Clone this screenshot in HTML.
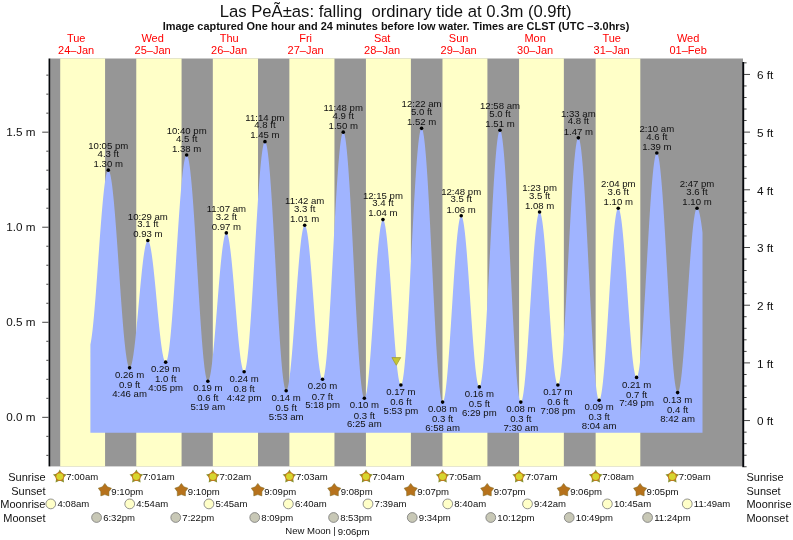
<!DOCTYPE html><html><head><meta charset="utf-8"><title>Tide</title>
<style>html,body{margin:0;padding:0;background:#fff;}svg{display:block;will-change:transform;font-family:"Liberation Sans",sans-serif;}</style></head><body>
<svg width="793" height="540" viewBox="0 0 793 540">
<rect width="793" height="540" fill="#fff"/>
<rect x="50" y="58.5" width="693" height="407.9" fill="#969696"/>
<rect x="60.21" y="58.5" width="44.86" height="407.9" fill="#ffffc8"/>
<rect x="136.27" y="58.5" width="45.30" height="407.9" fill="#ffffc8"/>
<rect x="212.82" y="58.5" width="45.20" height="407.9" fill="#ffffc8"/>
<rect x="289.37" y="58.5" width="45.09" height="407.9" fill="#ffffc8"/>
<rect x="365.92" y="58.5" width="44.98" height="407.9" fill="#ffffc8"/>
<rect x="442.48" y="58.5" width="44.93" height="407.9" fill="#ffffc8"/>
<rect x="519.08" y="58.5" width="44.77" height="407.9" fill="#ffffc8"/>
<rect x="595.64" y="58.5" width="44.67" height="407.9" fill="#ffffc8"/>
<path d="M90.40,432.8L90.40,344.55L90.90,341.93L91.40,338.80L91.90,335.20L92.40,331.13L92.90,326.63L93.40,321.72L93.90,316.44L94.40,310.81L94.90,304.87L95.40,298.65L95.90,292.20L96.40,285.55L96.90,278.75L97.40,271.83L97.90,264.84L98.40,257.82L98.90,250.81L99.40,243.86L99.90,237.01L100.40,230.30L100.90,223.77L101.40,217.46L101.90,211.41L102.40,205.66L102.90,200.24L103.40,195.18L103.90,190.52L104.40,186.29L104.90,182.50L105.40,179.19L105.90,176.37L106.40,174.07L106.90,172.29L107.40,171.04L107.90,170.34L108.40,170.18L108.90,170.57L109.40,171.49L109.90,172.94L110.40,174.91L110.90,177.40L111.40,180.38L111.90,183.85L112.40,187.77L112.90,192.14L113.40,196.93L113.90,202.11L114.40,207.65L114.90,213.52L115.40,219.70L115.90,226.15L116.40,232.82L116.90,239.70L117.40,246.73L117.90,253.89L118.40,261.13L118.90,268.41L119.40,275.69L119.90,282.94L120.40,290.11L120.90,297.17L121.40,304.07L121.90,310.79L122.40,317.27L122.90,323.50L123.40,329.43L123.90,335.03L124.40,340.27L124.90,345.12L125.40,349.56L125.90,353.57L126.40,357.11L126.90,360.18L127.40,362.75L127.90,364.81L128.40,366.35L128.90,367.36L129.40,367.83L129.90,367.79L130.40,367.26L130.90,366.27L131.40,364.81L131.90,362.91L132.40,360.56L132.90,357.80L133.40,354.65L133.90,351.11L134.40,347.23L134.90,343.03L135.40,338.54L135.90,333.80L136.40,328.83L136.90,323.69L137.40,318.39L137.90,313.00L138.40,307.53L138.90,302.05L139.40,296.57L139.90,291.16L140.40,285.84L140.90,280.66L141.40,275.65L141.90,270.86L142.40,266.31L142.90,262.04L143.40,258.09L143.90,254.48L144.40,251.23L144.90,248.38L145.40,245.95L145.90,243.95L146.40,242.39L146.90,241.30L147.40,240.67L147.90,240.51L148.40,240.83L148.90,241.61L149.40,242.86L149.90,244.55L150.40,246.69L150.90,249.25L151.40,252.22L151.90,255.56L152.40,259.26L152.90,263.28L153.40,267.60L153.90,272.18L154.40,276.98L154.90,281.98L155.40,287.12L155.90,292.37L156.40,297.69L156.90,303.05L157.40,308.38L157.90,313.67L158.40,318.85L158.90,323.91L159.40,328.78L159.90,333.45L160.40,337.86L160.90,342.00L161.40,345.82L161.90,349.29L162.40,352.40L162.90,355.11L163.40,357.40L163.90,359.26L164.40,360.67L164.90,361.62L165.40,362.10L165.90,362.11L166.40,361.55L166.90,360.41L167.40,358.70L167.90,356.43L168.40,353.61L168.90,350.26L169.40,346.40L169.90,342.04L170.40,337.22L170.90,331.95L171.40,326.28L171.90,320.23L172.40,313.83L172.90,307.12L173.40,300.14L173.90,292.92L174.40,285.52L174.90,277.96L175.40,270.30L175.90,262.56L176.40,254.81L176.90,247.08L177.40,239.41L177.90,231.85L178.40,224.44L178.90,217.22L179.40,210.23L179.90,203.51L180.40,197.10L180.90,191.04L181.40,185.35L181.90,180.07L182.40,175.24L182.90,170.87L183.40,166.99L183.90,163.62L184.40,160.78L184.90,158.50L185.40,156.77L185.90,155.61L186.40,155.03L186.90,155.04L187.40,155.66L187.90,156.90L188.40,158.75L188.90,161.19L189.40,164.23L189.90,167.83L190.40,171.99L190.90,176.67L191.40,181.85L191.90,187.51L192.40,193.61L192.90,200.12L193.40,207.00L193.90,214.21L194.40,221.73L194.90,229.49L195.40,237.47L195.90,245.62L196.40,253.89L196.90,262.23L197.40,270.61L197.90,278.98L198.40,287.28L198.90,295.48L199.40,303.53L199.90,311.39L200.40,319.00L200.90,326.34L201.40,333.36L201.90,340.02L202.40,346.28L202.90,352.12L203.40,357.49L203.90,362.37L204.40,366.74L204.90,370.56L205.40,373.82L205.90,376.50L206.40,378.59L206.90,380.07L207.40,380.93L207.90,381.18L208.40,380.85L208.90,380.00L209.40,378.61L209.90,376.71L210.40,374.31L210.90,371.42L211.40,368.07L211.90,364.28L212.40,360.08L212.90,355.49L213.40,350.55L213.90,345.30L214.40,339.77L214.90,334.01L215.40,328.05L215.90,321.94L216.40,315.72L216.90,309.44L217.40,303.15L217.90,296.88L218.40,290.68L218.90,284.60L219.40,278.69L219.90,272.98L220.40,267.51L220.90,262.33L221.40,257.47L221.90,252.97L222.40,248.86L222.90,245.17L223.40,241.93L223.90,239.16L224.40,236.87L224.90,235.09L225.40,233.84L225.90,233.10L226.40,232.91L226.90,233.25L227.40,234.13L227.90,235.54L228.40,237.46L228.90,239.90L229.40,242.82L229.90,246.20L230.40,250.02L230.90,254.24L231.40,258.84L231.90,263.78L232.40,269.02L232.90,274.52L233.40,280.23L233.90,286.11L234.40,292.13L234.90,298.22L235.40,304.34L235.90,310.44L236.40,316.48L236.90,322.42L237.40,328.19L237.90,333.76L238.40,339.09L238.90,344.13L239.40,348.85L239.90,353.20L240.40,357.16L240.90,360.69L241.40,363.77L241.90,366.36L242.40,368.46L242.90,370.04L243.40,371.10L243.90,371.62L244.40,371.58L244.90,370.90L245.40,369.58L245.90,367.61L246.40,365.01L246.90,361.79L247.40,357.97L247.90,353.58L248.40,348.64L248.90,343.18L249.40,337.22L249.90,330.80L250.40,323.97L250.90,316.75L251.40,309.19L251.90,301.33L252.40,293.21L252.90,284.89L253.40,276.41L253.90,267.82L254.40,259.16L254.90,250.49L255.40,241.85L255.90,233.30L256.40,224.88L256.90,216.64L257.40,208.63L257.90,200.89L258.40,193.47L258.90,186.41L259.40,179.75L259.90,173.52L260.40,167.77L260.90,162.52L261.40,157.81L261.90,153.66L262.40,150.10L262.90,147.14L263.40,144.81L263.90,143.11L264.40,142.06L264.90,141.66L265.40,141.92L265.90,142.87L266.40,144.49L266.90,146.79L267.40,149.73L267.90,153.32L268.40,157.52L268.90,162.33L269.40,167.70L269.90,173.61L270.40,180.03L270.90,186.92L271.40,194.25L271.90,201.98L272.40,210.05L272.90,218.43L273.40,227.08L273.90,235.94L274.40,244.97L274.90,254.11L275.40,263.32L275.90,272.54L276.40,281.73L276.90,290.83L277.40,299.80L277.90,308.59L278.40,317.14L278.90,325.41L279.40,333.35L279.90,340.93L280.40,348.10L280.90,354.82L281.40,361.05L281.90,366.76L282.40,371.91L282.90,376.49L283.40,380.46L283.90,383.81L284.40,386.51L284.90,388.54L285.40,389.91L285.90,390.60L286.40,390.61L286.90,390.02L287.40,388.85L287.90,387.09L288.40,384.76L288.90,381.89L289.40,378.48L289.90,374.57L290.40,370.18L290.90,365.35L291.40,360.10L291.90,354.48L292.40,348.53L292.90,342.28L293.40,335.79L293.90,329.10L294.40,322.26L294.90,315.32L295.40,308.32L295.90,301.32L296.40,294.37L296.90,287.52L297.40,280.81L297.90,274.30L298.40,268.03L298.90,262.05L299.40,256.39L299.90,251.11L300.40,246.24L300.90,241.80L301.40,237.85L301.90,234.39L302.40,231.47L302.90,229.09L303.40,227.28L303.90,226.05L304.40,225.40L304.90,225.35L305.40,225.89L305.90,227.03L306.40,228.74L306.90,231.03L307.40,233.87L307.90,237.24L308.40,241.11L308.90,245.45L309.40,250.23L309.90,255.42L310.40,260.97L310.90,266.84L311.40,272.98L311.90,279.35L312.40,285.90L312.90,292.58L313.40,299.33L313.90,306.10L314.40,312.84L314.90,319.50L315.40,326.03L315.90,332.38L316.40,338.49L316.90,344.32L317.40,349.83L317.90,354.97L318.40,359.70L318.90,363.98L319.40,367.79L319.90,371.09L320.40,373.86L320.90,376.08L321.40,377.73L321.90,378.79L322.40,379.26L322.90,379.10L323.40,378.24L323.90,376.68L324.40,374.42L324.90,371.48L325.40,367.87L325.90,363.62L326.40,358.75L326.90,353.29L327.40,347.27L327.90,340.72L328.40,333.68L328.90,326.20L329.40,318.31L329.90,310.06L330.40,301.50L330.90,292.67L331.40,283.63L331.90,274.44L332.40,265.13L332.90,255.77L333.40,246.41L333.90,237.11L334.40,227.91L334.90,218.87L335.40,210.04L335.90,201.48L336.40,193.22L336.90,185.33L337.40,177.84L337.90,170.80L338.40,164.24L338.90,158.21L339.40,152.74L339.90,147.87L340.40,143.61L340.90,139.99L341.40,137.04L341.90,134.78L342.40,133.21L342.90,132.34L343.40,132.18L343.90,132.75L344.40,134.06L344.90,136.09L345.40,138.84L345.90,142.29L346.40,146.42L346.90,151.21L347.40,156.63L347.90,162.66L348.40,169.25L348.90,176.38L349.40,183.99L349.90,192.06L350.40,200.54L350.90,209.37L351.40,218.51L351.90,227.91L352.40,237.52L352.90,247.28L353.40,257.14L353.90,267.05L354.40,276.94L354.90,286.77L355.40,296.48L355.90,306.02L356.40,315.33L356.90,324.37L357.40,333.07L357.90,341.40L358.40,349.31L358.90,356.75L359.40,363.69L359.90,370.07L360.40,375.88L360.90,381.07L361.40,385.62L361.90,389.50L362.40,392.70L362.90,395.18L363.40,396.95L363.90,397.99L364.40,398.29L364.90,397.91L365.40,396.90L365.90,395.26L366.40,393.00L366.90,390.14L367.40,386.71L367.90,382.72L368.40,378.21L368.90,373.20L369.40,367.73L369.90,361.84L370.40,355.58L370.90,348.98L371.40,342.10L371.90,334.98L372.40,327.67L372.90,320.23L373.40,312.72L373.90,305.17L374.40,297.65L374.90,290.21L375.40,282.91L375.90,275.79L376.40,268.91L376.90,262.31L377.40,256.05L377.90,250.16L378.40,244.69L378.90,239.68L379.40,235.17L379.90,231.18L380.40,227.74L380.90,224.89L381.40,222.63L381.90,220.99L382.40,219.98L382.90,219.60L383.40,219.86L383.90,220.74L384.40,222.25L384.90,224.38L385.40,227.10L385.90,230.39L386.40,234.23L386.90,238.60L387.40,243.45L387.90,248.75L388.40,254.46L388.90,260.54L389.40,266.93L389.90,273.60L390.40,280.49L390.90,287.54L391.40,294.70L391.90,301.93L392.40,309.15L392.90,316.33L393.40,323.39L393.90,330.30L394.40,336.99L394.90,343.41L395.40,349.52L395.90,355.27L396.40,360.62L396.90,365.52L397.40,369.93L397.90,373.83L398.40,377.18L398.90,379.96L399.40,382.14L399.90,383.71L400.40,384.66L400.90,384.98L401.40,384.62L401.90,383.51L402.40,381.68L402.90,379.12L403.40,375.85L403.90,371.90L404.40,367.28L404.90,362.02L405.40,356.15L405.90,349.71L406.40,342.73L406.90,335.25L407.40,327.32L407.90,318.99L408.40,310.29L408.90,301.28L409.40,292.02L409.90,282.55L410.40,272.93L410.90,263.22L411.40,253.47L411.90,243.73L412.40,234.08L412.90,224.55L413.40,215.21L413.90,206.11L414.40,197.30L414.90,188.83L415.40,180.75L415.90,173.12L416.40,165.96L416.90,159.33L417.40,153.26L417.90,147.79L418.40,142.95L418.90,138.76L419.40,135.26L419.90,132.45L420.40,130.37L420.90,129.01L421.40,128.39L421.90,128.52L422.40,129.40L422.90,131.04L423.40,133.43L423.90,136.56L424.40,140.40L424.90,144.94L425.40,150.15L425.90,155.99L426.40,162.45L426.90,169.48L427.40,177.04L427.90,185.10L428.40,193.60L428.90,202.50L429.40,211.75L429.90,221.30L430.40,231.09L430.90,241.08L431.40,251.19L431.90,261.39L432.40,271.61L432.90,281.79L433.40,291.88L433.90,301.82L434.40,311.55L434.90,321.03L435.40,330.20L435.90,339.00L436.40,347.40L436.90,355.33L437.40,362.77L437.90,369.66L438.40,375.97L438.90,381.66L439.40,386.70L439.90,391.07L440.40,394.73L440.90,397.67L441.40,399.88L441.90,401.33L442.40,402.03L442.90,401.98L443.40,401.26L443.90,399.88L444.40,397.85L444.90,395.18L445.40,391.91L445.90,388.04L446.40,383.60L446.90,378.64L447.40,373.17L447.90,367.25L448.40,360.91L448.90,354.21L449.40,347.17L449.90,339.87L450.40,332.35L450.90,324.66L451.40,316.85L451.90,308.99L452.40,301.13L452.90,293.33L453.40,285.63L453.90,278.11L454.40,270.80L454.90,263.77L455.40,257.05L455.90,250.71L456.40,244.78L456.90,239.32L457.40,234.34L457.90,229.90L458.40,226.02L458.90,222.74L459.40,220.07L459.90,218.03L460.40,216.64L460.90,215.91L461.40,215.85L461.90,216.42L462.40,217.64L462.90,219.48L463.40,221.94L463.90,225.00L464.40,228.63L464.90,232.81L465.40,237.50L465.90,242.67L466.40,248.28L466.90,254.29L467.40,260.66L467.90,267.33L468.40,274.25L468.90,281.38L469.40,288.66L469.90,296.03L470.40,303.45L470.90,310.85L471.40,318.17L471.90,325.37L472.40,332.39L472.90,339.18L473.40,345.68L473.90,351.85L474.40,357.64L474.90,363.01L475.40,367.91L475.90,372.31L476.40,376.18L476.90,379.49L477.40,382.21L477.90,384.32L478.40,385.81L478.90,386.66L479.40,386.87L479.90,386.38L480.40,385.14L480.90,383.18L481.40,380.50L481.90,377.11L482.40,373.03L482.90,368.30L483.40,362.93L483.90,356.96L484.40,350.43L484.90,343.36L485.40,335.80L485.90,327.79L486.40,319.39L486.90,310.63L487.40,301.58L487.90,292.27L488.40,282.77L488.90,273.13L489.40,263.41L489.90,253.66L490.40,243.94L490.90,234.30L491.40,224.80L491.90,215.50L492.40,206.44L492.90,197.69L493.40,189.29L493.90,181.29L494.40,173.73L494.90,166.67L495.40,160.13L495.90,154.16L496.40,148.80L496.90,144.07L497.40,140.00L497.90,136.62L498.40,133.94L498.90,131.98L499.40,130.75L499.90,130.26L500.40,130.52L500.90,131.55L501.40,133.35L501.90,135.90L502.40,139.20L502.90,143.21L503.40,147.93L503.90,153.32L504.40,159.35L504.90,165.98L505.40,173.19L505.90,180.92L506.40,189.14L506.90,197.80L507.40,206.85L507.90,216.23L508.40,225.90L508.90,235.80L509.40,245.87L509.90,256.06L510.40,266.30L510.90,276.54L511.40,286.72L511.90,296.79L512.40,306.68L512.90,316.34L513.40,325.72L513.90,334.76L514.40,343.41L514.90,351.62L515.40,359.34L515.90,366.53L516.40,373.15L516.90,379.17L517.40,384.54L517.90,389.24L518.40,393.23L518.90,396.51L519.40,399.04L519.90,400.82L520.40,401.84L520.90,402.08L521.40,401.62L521.90,400.50L522.40,398.72L522.90,396.30L523.40,393.26L523.90,389.61L524.40,385.38L524.90,380.60L525.40,375.31L525.90,369.54L526.40,363.32L526.90,356.72L527.40,349.77L527.90,342.51L528.40,335.01L528.90,327.31L529.40,319.47L529.90,311.54L530.40,303.58L530.90,295.65L531.40,287.79L531.90,280.07L532.40,272.54L532.90,265.25L533.40,258.26L533.90,251.60L534.40,245.34L534.90,239.51L535.40,234.15L535.90,229.30L536.40,225.00L536.90,221.27L537.40,218.14L537.90,215.64L538.40,213.78L538.90,212.57L539.40,212.03L539.90,212.14L540.40,212.89L540.90,214.27L541.40,216.26L541.90,218.86L542.40,222.04L542.90,225.79L543.40,230.07L543.90,234.85L544.40,240.10L544.90,245.77L545.40,251.84L545.90,258.24L546.40,264.94L546.90,271.89L547.40,279.03L547.90,286.32L548.40,293.69L548.90,301.10L549.40,308.50L549.90,315.81L550.40,323.00L550.90,330.01L551.40,336.79L551.90,343.29L552.40,349.46L552.90,355.25L553.40,360.63L553.90,365.55L554.40,369.98L554.90,373.89L555.40,377.24L555.90,380.01L556.40,382.19L556.90,383.75L557.40,384.68L557.90,384.98L558.40,384.60L558.90,383.49L559.40,381.66L559.90,379.13L560.40,375.90L560.90,371.99L561.40,367.43L561.90,362.25L562.40,356.47L562.90,350.13L563.40,343.27L563.90,335.93L564.40,328.15L564.90,319.97L565.40,311.45L565.90,302.63L566.40,293.58L566.90,284.33L567.40,274.94L567.90,265.48L568.40,255.99L568.90,246.54L569.40,237.17L569.90,227.95L570.40,218.92L570.90,210.14L571.40,201.67L571.90,193.54L572.40,185.82L572.90,178.55L573.40,171.76L573.90,165.50L574.40,159.81L574.90,154.71L575.40,150.24L575.90,146.43L576.40,143.30L576.90,140.87L577.40,139.14L577.90,138.14L578.40,137.86L578.90,138.32L579.40,139.53L579.90,141.48L580.40,144.16L580.90,147.56L581.40,151.65L581.90,156.40L582.40,161.81L582.90,167.82L583.40,174.42L583.90,181.55L584.40,189.19L584.90,197.28L585.40,205.78L585.90,214.64L586.40,223.81L586.90,233.25L587.40,242.88L587.90,252.67L588.40,262.55L588.90,272.46L589.40,282.36L589.90,292.18L590.40,301.87L590.90,311.37L591.40,320.63L591.90,329.59L592.40,338.21L592.90,346.43L593.40,354.21L593.90,361.50L594.40,368.26L594.90,374.46L595.40,380.05L595.90,385.01L596.40,389.31L596.90,392.92L597.40,395.82L597.90,397.99L598.40,399.43L598.90,400.12L599.40,400.08L599.90,399.39L600.40,398.05L600.90,396.08L601.40,393.49L601.90,390.30L602.40,386.53L602.90,382.20L603.40,377.35L603.90,372.00L604.40,366.20L604.90,359.98L605.40,353.38L605.90,346.45L606.40,339.24L606.90,331.79L607.40,324.15L607.90,316.38L608.40,308.53L608.90,300.64L609.40,292.78L609.90,285.00L610.40,277.35L610.90,269.88L611.40,262.64L611.90,255.68L612.40,249.05L612.90,242.79L613.40,236.94L613.90,231.54L614.40,226.64L614.90,222.26L615.40,218.43L615.90,215.18L616.40,212.53L616.90,210.50L617.40,209.10L617.90,208.34L618.40,208.22L618.90,208.73L619.40,209.86L619.90,211.60L620.40,213.94L620.90,216.85L621.40,220.32L621.90,224.32L622.40,228.82L622.90,233.80L623.40,239.20L623.90,245.01L624.40,251.16L624.90,257.61L625.40,264.33L625.90,271.25L626.40,278.33L626.90,285.52L627.40,292.76L627.90,300.00L628.40,307.19L628.90,314.27L629.40,321.20L629.90,327.92L630.40,334.37L630.90,340.53L631.40,346.33L631.90,351.74L632.40,356.72L632.90,361.22L633.40,365.23L633.90,368.70L634.40,371.62L634.90,373.95L635.40,375.70L635.90,376.83L636.40,377.34L636.90,377.23L637.40,376.44L637.90,374.98L638.40,372.86L638.90,370.10L639.40,366.70L639.90,362.69L640.40,358.10L640.90,352.94L641.40,347.26L641.90,341.08L642.40,334.45L642.90,327.40L643.40,319.98L643.90,312.22L644.40,304.18L644.90,295.91L645.40,287.46L645.90,278.87L646.40,270.20L646.90,261.49L647.40,252.81L647.90,244.21L648.40,235.73L648.90,227.43L649.40,219.36L649.90,211.56L650.40,204.09L650.90,196.98L651.40,190.28L651.90,184.04L652.40,178.28L652.90,173.05L653.40,168.37L653.90,164.28L654.40,160.79L654.90,157.93L655.40,155.72L655.90,154.17L656.40,153.28L656.90,153.07L657.40,153.54L657.90,154.69L658.40,156.51L658.90,158.99L659.40,162.11L659.90,165.87L660.40,170.23L660.90,175.18L661.40,180.69L661.90,186.71L662.40,193.23L662.90,200.20L663.40,207.58L663.90,215.34L664.40,223.42L664.90,231.78L665.40,240.38L665.90,249.15L666.40,258.07L666.90,267.07L667.40,276.10L667.90,285.11L668.40,294.05L668.90,302.87L669.40,311.53L669.90,319.96L670.40,328.12L670.90,335.97L671.40,343.46L671.90,350.54L672.40,357.19L672.90,363.36L673.40,369.01L673.90,374.11L674.40,378.64L674.90,382.56L675.40,385.87L675.90,388.53L676.40,390.53L676.90,391.86L677.40,392.51L677.90,392.50L678.40,391.87L678.90,390.65L679.40,388.83L679.90,386.43L680.40,383.47L680.90,379.96L681.40,375.93L681.90,371.40L682.40,366.41L682.90,360.99L683.40,355.17L683.90,348.98L684.40,342.48L684.90,335.71L685.40,328.70L685.90,321.51L686.40,314.18L686.90,306.76L687.40,299.29L687.90,291.84L688.40,284.43L688.90,277.14L689.40,270.00L689.90,263.05L690.40,256.35L690.90,249.94L691.40,243.86L691.90,238.15L692.40,232.85L692.90,228.00L693.40,223.61L693.90,219.73L694.40,216.38L694.90,213.58L695.40,211.35L695.90,209.71L696.40,208.66L696.90,208.21L697.40,208.31L697.90,208.85L698.40,209.82L698.90,211.20L699.40,213.00L699.90,215.21L700.40,217.80L700.90,220.77L701.40,224.11L701.90,227.78L702.40,231.78L702.50,232.62L702.50,432.8Z" fill="#a0b4ff"/>
<rect x="48.55" y="58.5" width="1.65" height="407.9" fill="#06080c"/>
<rect x="742.3" y="62.0" width="1.9" height="405.2" fill="#06080c"/>
<rect x="46.3" y="454.87" width="2.2" height="0.9" fill="#333"/>
<rect x="46.3" y="435.86" width="2.2" height="0.9" fill="#333"/>
<rect x="42.2" y="416.85" width="6.3" height="0.9" fill="#333"/>
<text x="35.4" y="421.35" font-size="11.7" text-anchor="end" fill="#111111">0.0 m</text>
<rect x="46.3" y="397.84" width="2.2" height="0.9" fill="#333"/>
<rect x="46.3" y="378.83" width="2.2" height="0.9" fill="#333"/>
<rect x="46.3" y="359.82" width="2.2" height="0.9" fill="#333"/>
<rect x="46.3" y="340.81" width="2.2" height="0.9" fill="#333"/>
<rect x="42.2" y="321.80" width="6.3" height="0.9" fill="#333"/>
<text x="35.4" y="326.30" font-size="11.7" text-anchor="end" fill="#111111">0.5 m</text>
<rect x="46.3" y="302.79" width="2.2" height="0.9" fill="#333"/>
<rect x="46.3" y="283.78" width="2.2" height="0.9" fill="#333"/>
<rect x="46.3" y="264.77" width="2.2" height="0.9" fill="#333"/>
<rect x="46.3" y="245.76" width="2.2" height="0.9" fill="#333"/>
<rect x="42.2" y="226.75" width="6.3" height="0.9" fill="#333"/>
<text x="35.4" y="231.25" font-size="11.7" text-anchor="end" fill="#111111">1.0 m</text>
<rect x="46.3" y="207.74" width="2.2" height="0.9" fill="#333"/>
<rect x="46.3" y="188.73" width="2.2" height="0.9" fill="#333"/>
<rect x="46.3" y="169.72" width="2.2" height="0.9" fill="#333"/>
<rect x="46.3" y="150.71" width="2.2" height="0.9" fill="#333"/>
<rect x="42.2" y="131.70" width="6.3" height="0.9" fill="#333"/>
<text x="35.4" y="136.20" font-size="11.7" text-anchor="end" fill="#111111">1.5 m</text>
<rect x="46.3" y="112.69" width="2.2" height="0.9" fill="#333"/>
<rect x="46.3" y="93.68" width="2.2" height="0.9" fill="#333"/>
<rect x="46.3" y="74.67" width="2.2" height="0.9" fill="#333"/>
<rect x="744" y="466.31" width="2.6" height="0.9" fill="#333"/>
<rect x="744" y="454.77" width="2.6" height="0.9" fill="#333"/>
<rect x="744" y="443.23" width="2.6" height="0.9" fill="#333"/>
<rect x="744" y="431.69" width="2.6" height="0.9" fill="#333"/>
<rect x="744" y="420.15" width="6" height="0.9" fill="#333"/>
<text x="756.9" y="425.30" font-size="11.8" fill="#111111">0 ft</text>
<rect x="744" y="408.61" width="2.6" height="0.9" fill="#333"/>
<rect x="744" y="397.07" width="2.6" height="0.9" fill="#333"/>
<rect x="744" y="385.53" width="2.6" height="0.9" fill="#333"/>
<rect x="744" y="373.99" width="2.6" height="0.9" fill="#333"/>
<rect x="744" y="362.45" width="6" height="0.9" fill="#333"/>
<text x="756.9" y="367.60" font-size="11.8" fill="#111111">1 ft</text>
<rect x="744" y="350.91" width="2.6" height="0.9" fill="#333"/>
<rect x="744" y="339.37" width="2.6" height="0.9" fill="#333"/>
<rect x="744" y="327.83" width="2.6" height="0.9" fill="#333"/>
<rect x="744" y="316.29" width="2.6" height="0.9" fill="#333"/>
<rect x="744" y="304.75" width="6" height="0.9" fill="#333"/>
<text x="756.9" y="309.90" font-size="11.8" fill="#111111">2 ft</text>
<rect x="744" y="293.21" width="2.6" height="0.9" fill="#333"/>
<rect x="744" y="281.67" width="2.6" height="0.9" fill="#333"/>
<rect x="744" y="270.13" width="2.6" height="0.9" fill="#333"/>
<rect x="744" y="258.59" width="2.6" height="0.9" fill="#333"/>
<rect x="744" y="247.05" width="6" height="0.9" fill="#333"/>
<text x="756.9" y="252.20" font-size="11.8" fill="#111111">3 ft</text>
<rect x="744" y="235.51" width="2.6" height="0.9" fill="#333"/>
<rect x="744" y="223.97" width="2.6" height="0.9" fill="#333"/>
<rect x="744" y="212.43" width="2.6" height="0.9" fill="#333"/>
<rect x="744" y="200.89" width="2.6" height="0.9" fill="#333"/>
<rect x="744" y="189.35" width="6" height="0.9" fill="#333"/>
<text x="756.9" y="194.50" font-size="11.8" fill="#111111">4 ft</text>
<rect x="744" y="177.81" width="2.6" height="0.9" fill="#333"/>
<rect x="744" y="166.27" width="2.6" height="0.9" fill="#333"/>
<rect x="744" y="154.73" width="2.6" height="0.9" fill="#333"/>
<rect x="744" y="143.19" width="2.6" height="0.9" fill="#333"/>
<rect x="744" y="131.65" width="6" height="0.9" fill="#333"/>
<text x="756.9" y="136.80" font-size="11.8" fill="#111111">5 ft</text>
<rect x="744" y="120.11" width="2.6" height="0.9" fill="#333"/>
<rect x="744" y="108.57" width="2.6" height="0.9" fill="#333"/>
<rect x="744" y="97.03" width="2.6" height="0.9" fill="#333"/>
<rect x="744" y="85.49" width="2.6" height="0.9" fill="#333"/>
<rect x="744" y="73.95" width="6" height="0.9" fill="#333"/>
<text x="756.9" y="79.10" font-size="11.8" fill="#111111">6 ft</text>
<rect x="744" y="62.41" width="2.6" height="0.9" fill="#333"/>
<text x="395.6" y="16.7" font-size="16.67" text-anchor="middle" fill="#111111" xml:space="preserve">Las PeÃ±as: falling  ordinary tide at 0.3m (0.9ft)</text>
<text x="396" y="29.5" font-size="10.94" font-weight="bold" text-anchor="middle" fill="#111111">Image captured One hour and 24 minutes before low water. Times are CLST (UTC –3.0hrs)</text>
<text x="76.15" y="41.5" font-size="11.0" text-anchor="middle" fill="#ff0000">Tue</text>
<text x="76.15" y="53.5" font-size="11.0" text-anchor="middle" fill="#ff0000">24–Jan</text>
<text x="152.65" y="41.5" font-size="11.0" text-anchor="middle" fill="#ff0000">Wed</text>
<text x="152.65" y="53.5" font-size="11.0" text-anchor="middle" fill="#ff0000">25–Jan</text>
<text x="229.15" y="41.5" font-size="11.0" text-anchor="middle" fill="#ff0000">Thu</text>
<text x="229.15" y="53.5" font-size="11.0" text-anchor="middle" fill="#ff0000">26–Jan</text>
<text x="305.65" y="41.5" font-size="11.0" text-anchor="middle" fill="#ff0000">Fri</text>
<text x="305.65" y="53.5" font-size="11.0" text-anchor="middle" fill="#ff0000">27–Jan</text>
<text x="382.15" y="41.5" font-size="11.0" text-anchor="middle" fill="#ff0000">Sat</text>
<text x="382.15" y="53.5" font-size="11.0" text-anchor="middle" fill="#ff0000">28–Jan</text>
<text x="458.65" y="41.5" font-size="11.0" text-anchor="middle" fill="#ff0000">Sun</text>
<text x="458.65" y="53.5" font-size="11.0" text-anchor="middle" fill="#ff0000">29–Jan</text>
<text x="535.15" y="41.5" font-size="11.0" text-anchor="middle" fill="#ff0000">Mon</text>
<text x="535.15" y="53.5" font-size="11.0" text-anchor="middle" fill="#ff0000">30–Jan</text>
<text x="611.65" y="41.5" font-size="11.0" text-anchor="middle" fill="#ff0000">Tue</text>
<text x="611.65" y="53.5" font-size="11.0" text-anchor="middle" fill="#ff0000">31–Jan</text>
<text x="688.15" y="41.5" font-size="11.0" text-anchor="middle" fill="#ff0000">Wed</text>
<text x="688.15" y="53.5" font-size="11.0" text-anchor="middle" fill="#ff0000">01–Feb</text>
<circle cx="108.29" cy="170.17" r="1.8" fill="#000"/>
<text x="108.29" y="149.27" font-size="9.6" text-anchor="middle" fill="#111111">10:05 pm</text>
<text x="108.29" y="156.77" font-size="9.6" text-anchor="middle" fill="#111111">4.3 ft</text>
<text x="108.29" y="166.97" font-size="9.6" text-anchor="middle" fill="#111111">1.30 m</text>
<circle cx="129.59" cy="367.87" r="1.8" fill="#000"/>
<text x="129.59" y="378.07" font-size="9.6" text-anchor="middle" fill="#111111">0.26 m</text>
<text x="129.59" y="388.17" font-size="9.6" text-anchor="middle" fill="#111111">0.9 ft</text>
<text x="129.59" y="396.87" font-size="9.6" text-anchor="middle" fill="#111111">4:46 am</text>
<circle cx="147.82" cy="240.51" r="1.8" fill="#000"/>
<text x="147.82" y="219.61" font-size="9.6" text-anchor="middle" fill="#111111">10:29 am</text>
<text x="147.82" y="227.11" font-size="9.6" text-anchor="middle" fill="#111111">3.1 ft</text>
<text x="147.82" y="237.31" font-size="9.6" text-anchor="middle" fill="#111111">0.93 m</text>
<circle cx="165.67" cy="362.17" r="1.8" fill="#000"/>
<text x="165.67" y="372.37" font-size="9.6" text-anchor="middle" fill="#111111">0.29 m</text>
<text x="165.67" y="382.47" font-size="9.6" text-anchor="middle" fill="#111111">1.0 ft</text>
<text x="165.67" y="391.17" font-size="9.6" text-anchor="middle" fill="#111111">4:05 pm</text>
<circle cx="186.65" cy="154.96" r="1.8" fill="#000"/>
<text x="186.65" y="134.06" font-size="9.6" text-anchor="middle" fill="#111111">10:40 pm</text>
<text x="186.65" y="141.56" font-size="9.6" text-anchor="middle" fill="#111111">4.5 ft</text>
<text x="186.65" y="151.76" font-size="9.6" text-anchor="middle" fill="#111111">1.38 m</text>
<circle cx="207.85" cy="381.18" r="1.8" fill="#000"/>
<text x="207.85" y="391.38" font-size="9.6" text-anchor="middle" fill="#111111">0.19 m</text>
<text x="207.85" y="401.48" font-size="9.6" text-anchor="middle" fill="#111111">0.6 ft</text>
<text x="207.85" y="410.18" font-size="9.6" text-anchor="middle" fill="#111111">5:19 am</text>
<circle cx="226.33" cy="232.90" r="1.8" fill="#000"/>
<text x="226.33" y="212.00" font-size="9.6" text-anchor="middle" fill="#111111">11:07 am</text>
<text x="226.33" y="219.50" font-size="9.6" text-anchor="middle" fill="#111111">3.2 ft</text>
<text x="226.33" y="229.70" font-size="9.6" text-anchor="middle" fill="#111111">0.97 m</text>
<circle cx="244.13" cy="371.68" r="1.8" fill="#000"/>
<text x="244.13" y="381.88" font-size="9.6" text-anchor="middle" fill="#111111">0.24 m</text>
<text x="244.13" y="391.98" font-size="9.6" text-anchor="middle" fill="#111111">0.8 ft</text>
<text x="244.13" y="400.68" font-size="9.6" text-anchor="middle" fill="#111111">4:42 pm</text>
<circle cx="264.96" cy="141.66" r="1.8" fill="#000"/>
<text x="264.96" y="120.76" font-size="9.6" text-anchor="middle" fill="#111111">11:14 pm</text>
<text x="264.96" y="128.26" font-size="9.6" text-anchor="middle" fill="#111111">4.8 ft</text>
<text x="264.96" y="138.46" font-size="9.6" text-anchor="middle" fill="#111111">1.45 m</text>
<circle cx="286.15" cy="390.69" r="1.8" fill="#000"/>
<text x="286.15" y="400.89" font-size="9.6" text-anchor="middle" fill="#111111">0.14 m</text>
<text x="286.15" y="410.99" font-size="9.6" text-anchor="middle" fill="#111111">0.5 ft</text>
<text x="286.15" y="419.69" font-size="9.6" text-anchor="middle" fill="#111111">5:53 am</text>
<circle cx="304.69" cy="225.30" r="1.8" fill="#000"/>
<text x="304.69" y="204.40" font-size="9.6" text-anchor="middle" fill="#111111">11:42 am</text>
<text x="304.69" y="211.90" font-size="9.6" text-anchor="middle" fill="#111111">3.3 ft</text>
<text x="304.69" y="222.10" font-size="9.6" text-anchor="middle" fill="#111111">1.01 m</text>
<circle cx="322.54" cy="379.28" r="1.8" fill="#000"/>
<text x="322.54" y="389.48" font-size="9.6" text-anchor="middle" fill="#111111">0.20 m</text>
<text x="322.54" y="399.58" font-size="9.6" text-anchor="middle" fill="#111111">0.7 ft</text>
<text x="322.54" y="408.28" font-size="9.6" text-anchor="middle" fill="#111111">5:18 pm</text>
<circle cx="343.26" cy="132.15" r="1.8" fill="#000"/>
<text x="343.26" y="111.25" font-size="9.6" text-anchor="middle" fill="#111111">11:48 pm</text>
<text x="343.26" y="118.75" font-size="9.6" text-anchor="middle" fill="#111111">4.9 ft</text>
<text x="343.26" y="128.95" font-size="9.6" text-anchor="middle" fill="#111111">1.50 m</text>
<circle cx="364.35" cy="398.29" r="1.8" fill="#000"/>
<text x="364.35" y="408.49" font-size="9.6" text-anchor="middle" fill="#111111">0.10 m</text>
<text x="364.35" y="418.59" font-size="9.6" text-anchor="middle" fill="#111111">0.3 ft</text>
<text x="364.35" y="427.29" font-size="9.6" text-anchor="middle" fill="#111111">6:25 am</text>
<circle cx="382.95" cy="219.60" r="1.8" fill="#000"/>
<text x="382.95" y="198.70" font-size="9.6" text-anchor="middle" fill="#111111">12:15 pm</text>
<text x="382.95" y="206.20" font-size="9.6" text-anchor="middle" fill="#111111">3.4 ft</text>
<text x="382.95" y="216.40" font-size="9.6" text-anchor="middle" fill="#111111">1.04 m</text>
<circle cx="400.90" cy="384.98" r="1.8" fill="#000"/>
<text x="400.90" y="395.18" font-size="9.6" text-anchor="middle" fill="#111111">0.17 m</text>
<text x="400.90" y="405.28" font-size="9.6" text-anchor="middle" fill="#111111">0.6 ft</text>
<text x="400.90" y="413.98" font-size="9.6" text-anchor="middle" fill="#111111">5:53 pm</text>
<circle cx="421.57" cy="128.35" r="1.8" fill="#000"/>
<text x="421.57" y="107.45" font-size="9.6" text-anchor="middle" fill="#111111">12:22 am</text>
<text x="421.57" y="114.95" font-size="9.6" text-anchor="middle" fill="#111111">5.0 ft</text>
<text x="421.57" y="125.15" font-size="9.6" text-anchor="middle" fill="#111111">1.52 m</text>
<circle cx="442.61" cy="402.09" r="1.8" fill="#000"/>
<text x="442.61" y="412.29" font-size="9.6" text-anchor="middle" fill="#111111">0.08 m</text>
<text x="442.61" y="422.39" font-size="9.6" text-anchor="middle" fill="#111111">0.3 ft</text>
<text x="442.61" y="431.09" font-size="9.6" text-anchor="middle" fill="#111111">6:58 am</text>
<circle cx="461.20" cy="215.79" r="1.8" fill="#000"/>
<text x="461.20" y="194.89" font-size="9.6" text-anchor="middle" fill="#111111">12:48 pm</text>
<text x="461.20" y="202.39" font-size="9.6" text-anchor="middle" fill="#111111">3.5 ft</text>
<text x="461.20" y="212.59" font-size="9.6" text-anchor="middle" fill="#111111">1.06 m</text>
<circle cx="479.32" cy="386.88" r="1.8" fill="#000"/>
<text x="479.32" y="397.08" font-size="9.6" text-anchor="middle" fill="#111111">0.16 m</text>
<text x="479.32" y="407.18" font-size="9.6" text-anchor="middle" fill="#111111">0.5 ft</text>
<text x="479.32" y="415.88" font-size="9.6" text-anchor="middle" fill="#111111">6:29 pm</text>
<circle cx="499.98" cy="130.25" r="1.8" fill="#000"/>
<text x="499.98" y="109.35" font-size="9.6" text-anchor="middle" fill="#111111">12:58 am</text>
<text x="499.98" y="116.85" font-size="9.6" text-anchor="middle" fill="#111111">5.0 ft</text>
<text x="499.98" y="127.05" font-size="9.6" text-anchor="middle" fill="#111111">1.51 m</text>
<circle cx="520.81" cy="402.09" r="1.8" fill="#000"/>
<text x="520.81" y="412.29" font-size="9.6" text-anchor="middle" fill="#111111">0.08 m</text>
<text x="520.81" y="422.39" font-size="9.6" text-anchor="middle" fill="#111111">0.3 ft</text>
<text x="520.81" y="431.09" font-size="9.6" text-anchor="middle" fill="#111111">7:30 am</text>
<circle cx="539.56" cy="211.99" r="1.8" fill="#000"/>
<text x="539.56" y="191.09" font-size="9.6" text-anchor="middle" fill="#111111">1:23 pm</text>
<text x="539.56" y="198.59" font-size="9.6" text-anchor="middle" fill="#111111">3.5 ft</text>
<text x="539.56" y="208.79" font-size="9.6" text-anchor="middle" fill="#111111">1.08 m</text>
<circle cx="557.89" cy="384.98" r="1.8" fill="#000"/>
<text x="557.89" y="395.18" font-size="9.6" text-anchor="middle" fill="#111111">0.17 m</text>
<text x="557.89" y="405.28" font-size="9.6" text-anchor="middle" fill="#111111">0.6 ft</text>
<text x="557.89" y="413.98" font-size="9.6" text-anchor="middle" fill="#111111">7:08 pm</text>
<circle cx="578.34" cy="137.85" r="1.8" fill="#000"/>
<text x="578.34" y="116.95" font-size="9.6" text-anchor="middle" fill="#111111">1:33 am</text>
<text x="578.34" y="124.45" font-size="9.6" text-anchor="middle" fill="#111111">4.8 ft</text>
<text x="578.34" y="134.65" font-size="9.6" text-anchor="middle" fill="#111111">1.47 m</text>
<circle cx="599.11" cy="400.19" r="1.8" fill="#000"/>
<text x="599.11" y="410.39" font-size="9.6" text-anchor="middle" fill="#111111">0.09 m</text>
<text x="599.11" y="420.49" font-size="9.6" text-anchor="middle" fill="#111111">0.3 ft</text>
<text x="599.11" y="429.19" font-size="9.6" text-anchor="middle" fill="#111111">8:04 am</text>
<circle cx="618.24" cy="208.19" r="1.8" fill="#000"/>
<text x="618.24" y="187.29" font-size="9.6" text-anchor="middle" fill="#111111">2:04 pm</text>
<text x="618.24" y="194.79" font-size="9.6" text-anchor="middle" fill="#111111">3.6 ft</text>
<text x="618.24" y="204.99" font-size="9.6" text-anchor="middle" fill="#111111">1.10 m</text>
<circle cx="636.57" cy="377.38" r="1.8" fill="#000"/>
<text x="636.57" y="387.58" font-size="9.6" text-anchor="middle" fill="#111111">0.21 m</text>
<text x="636.57" y="397.68" font-size="9.6" text-anchor="middle" fill="#111111">0.7 ft</text>
<text x="636.57" y="406.38" font-size="9.6" text-anchor="middle" fill="#111111">7:49 pm</text>
<circle cx="656.81" cy="153.06" r="1.8" fill="#000"/>
<text x="656.81" y="132.16" font-size="9.6" text-anchor="middle" fill="#111111">2:10 am</text>
<text x="656.81" y="139.66" font-size="9.6" text-anchor="middle" fill="#111111">4.6 ft</text>
<text x="656.81" y="149.86" font-size="9.6" text-anchor="middle" fill="#111111">1.39 m</text>
<circle cx="677.63" cy="392.59" r="1.8" fill="#000"/>
<text x="677.63" y="402.79" font-size="9.6" text-anchor="middle" fill="#111111">0.13 m</text>
<text x="677.63" y="412.89" font-size="9.6" text-anchor="middle" fill="#111111">0.4 ft</text>
<text x="677.63" y="421.59" font-size="9.6" text-anchor="middle" fill="#111111">8:42 am</text>
<circle cx="697.02" cy="208.19" r="1.8" fill="#000"/>
<text x="697.02" y="187.29" font-size="9.6" text-anchor="middle" fill="#111111">2:47 pm</text>
<text x="697.02" y="194.79" font-size="9.6" text-anchor="middle" fill="#111111">3.6 ft</text>
<text x="697.02" y="204.99" font-size="9.6" text-anchor="middle" fill="#111111">1.10 m</text>
<path d="M391.90,357.6 L400.70,357.6 L396.30,365.3 Z" fill="#c6c632" stroke="#9a9430" stroke-width="0.7"/>
<text x="45.5" y="480.50" font-size="11" text-anchor="end" fill="#111111">Sunrise</text>
<text x="746.5" y="480.50" font-size="10.95" fill="#111111">Sunrise</text>
<text x="45.5" y="494.50" font-size="11" text-anchor="end" fill="#111111">Sunset</text>
<text x="746.5" y="494.50" font-size="10.95" fill="#111111">Sunset</text>
<text x="45.5" y="508.00" font-size="11" text-anchor="end" fill="#111111">Moonrise</text>
<text x="746.5" y="508.00" font-size="10.95" fill="#111111">Moonrise</text>
<text x="45.5" y="521.50" font-size="11" text-anchor="end" fill="#111111">Moonset</text>
<text x="746.5" y="521.50" font-size="10.95" fill="#111111">Moonset</text>
<polygon points="59.81,469.40 62.05,473.53 66.66,474.38 63.43,477.77 64.04,482.42 59.81,480.40 55.58,482.42 56.20,477.77 52.96,474.38 57.58,473.53" fill="#8a9230"/><circle cx="59.81" cy="476.60" r="4.5" fill="#c8781c"/><circle cx="59.81" cy="476.60" r="3.45" fill="#d6d62e"/>
<text x="66.31" y="479.60" font-size="9.55" fill="#111111">7:00am</text>
<polygon points="136.37,469.40 138.60,473.53 143.21,474.38 139.98,477.77 140.60,482.42 136.37,480.40 132.13,482.42 132.75,477.77 129.52,474.38 134.13,473.53" fill="#8a9230"/><circle cx="136.37" cy="476.60" r="4.5" fill="#c8781c"/><circle cx="136.37" cy="476.60" r="3.45" fill="#d6d62e"/>
<text x="142.87" y="479.60" font-size="9.55" fill="#111111">7:01am</text>
<polygon points="212.92,469.40 215.15,473.53 219.77,474.38 216.53,477.77 217.15,482.42 212.92,480.40 208.69,482.42 209.30,477.77 206.07,474.38 210.69,473.53" fill="#8a9230"/><circle cx="212.92" cy="476.60" r="4.5" fill="#c8781c"/><circle cx="212.92" cy="476.60" r="3.45" fill="#d6d62e"/>
<text x="219.42" y="479.60" font-size="9.55" fill="#111111">7:02am</text>
<polygon points="289.47,469.40 291.71,473.53 296.32,474.38 293.09,477.77 293.70,482.42 289.47,480.40 285.24,482.42 285.86,477.77 282.62,474.38 287.24,473.53" fill="#8a9230"/><circle cx="289.47" cy="476.60" r="4.5" fill="#c8781c"/><circle cx="289.47" cy="476.60" r="3.45" fill="#d6d62e"/>
<text x="295.97" y="479.60" font-size="9.55" fill="#111111">7:03am</text>
<polygon points="366.02,469.40 368.26,473.53 372.87,474.38 369.64,477.77 370.26,482.42 366.02,480.40 361.79,482.42 362.41,477.77 359.18,474.38 363.79,473.53" fill="#8a9230"/><circle cx="366.02" cy="476.60" r="4.5" fill="#c8781c"/><circle cx="366.02" cy="476.60" r="3.45" fill="#d6d62e"/>
<text x="372.52" y="479.60" font-size="9.55" fill="#111111">7:04am</text>
<polygon points="442.58,469.40 444.81,473.53 449.43,474.38 446.19,477.77 446.81,482.42 442.58,480.40 438.35,482.42 438.96,477.77 435.73,474.38 440.34,473.53" fill="#8a9230"/><circle cx="442.58" cy="476.60" r="4.5" fill="#c8781c"/><circle cx="442.58" cy="476.60" r="3.45" fill="#d6d62e"/>
<text x="449.08" y="479.60" font-size="9.55" fill="#111111">7:05am</text>
<polygon points="519.18,469.40 521.42,473.53 526.03,474.38 522.80,477.77 523.42,482.42 519.18,480.40 514.95,482.42 515.57,477.77 512.34,474.38 516.95,473.53" fill="#8a9230"/><circle cx="519.18" cy="476.60" r="4.5" fill="#c8781c"/><circle cx="519.18" cy="476.60" r="3.45" fill="#d6d62e"/>
<text x="525.68" y="479.60" font-size="9.55" fill="#111111">7:07am</text>
<polygon points="595.74,469.40 597.97,473.53 602.59,474.38 599.35,477.77 599.97,482.42 595.74,480.40 591.51,482.42 592.12,477.77 588.89,474.38 593.50,473.53" fill="#8a9230"/><circle cx="595.74" cy="476.60" r="4.5" fill="#c8781c"/><circle cx="595.74" cy="476.60" r="3.45" fill="#d6d62e"/>
<text x="602.24" y="479.60" font-size="9.55" fill="#111111">7:08am</text>
<polygon points="672.29,469.40 674.52,473.53 679.14,474.38 675.90,477.77 676.52,482.42 672.29,480.40 668.06,482.42 668.68,477.77 665.44,474.38 670.06,473.53" fill="#8a9230"/><circle cx="672.29" cy="476.60" r="4.5" fill="#c8781c"/><circle cx="672.29" cy="476.60" r="3.45" fill="#d6d62e"/>
<text x="678.79" y="479.60" font-size="9.55" fill="#111111">7:09am</text>
<polygon points="104.87,483.40 107.40,486.82 111.43,488.17 108.96,491.63 108.92,495.88 104.87,494.60 100.81,495.88 100.78,491.63 98.31,488.17 102.34,486.82" fill="#b6721c" stroke="#7a6a24" stroke-width="0.5"/>
<text x="111.37" y="494.70" font-size="9.55" fill="#111111">9:10pm</text>
<polygon points="181.37,483.40 183.90,486.82 187.93,488.17 185.46,491.63 185.42,495.88 181.37,494.60 177.31,495.88 177.28,491.63 174.81,488.17 178.84,486.82" fill="#b6721c" stroke="#7a6a24" stroke-width="0.5"/>
<text x="187.87" y="494.70" font-size="9.55" fill="#111111">9:10pm</text>
<polygon points="257.82,483.40 260.34,486.82 264.38,488.17 261.91,491.63 261.87,495.88 257.82,494.60 253.76,495.88 253.73,491.63 251.25,488.17 255.29,486.82" fill="#b6721c" stroke="#7a6a24" stroke-width="0.5"/>
<text x="264.32" y="494.70" font-size="9.55" fill="#111111">9:09pm</text>
<polygon points="334.26,483.40 336.79,486.82 340.82,488.17 338.35,491.63 338.32,495.88 334.26,494.60 330.21,495.88 330.17,491.63 327.70,488.17 331.74,486.82" fill="#b6721c" stroke="#7a6a24" stroke-width="0.5"/>
<text x="340.76" y="494.70" font-size="9.55" fill="#111111">9:08pm</text>
<polygon points="410.71,483.40 413.24,486.82 417.27,488.17 414.80,491.63 414.77,495.88 410.71,494.60 406.65,495.88 406.62,491.63 404.15,488.17 408.18,486.82" fill="#b6721c" stroke="#7a6a24" stroke-width="0.5"/>
<text x="417.21" y="494.70" font-size="9.55" fill="#111111">9:07pm</text>
<polygon points="487.21,483.40 489.74,486.82 493.77,488.17 491.30,491.63 491.27,495.88 487.21,494.60 483.15,495.88 483.12,491.63 480.65,488.17 484.68,486.82" fill="#b6721c" stroke="#7a6a24" stroke-width="0.5"/>
<text x="493.71" y="494.70" font-size="9.55" fill="#111111">9:07pm</text>
<polygon points="563.66,483.40 566.18,486.82 570.22,488.17 567.75,491.63 567.71,495.88 563.66,494.60 559.60,495.88 559.57,491.63 557.09,488.17 561.13,486.82" fill="#b6721c" stroke="#7a6a24" stroke-width="0.5"/>
<text x="570.16" y="494.70" font-size="9.55" fill="#111111">9:06pm</text>
<polygon points="640.10,483.40 642.63,486.82 646.67,488.17 644.19,491.63 644.16,495.88 640.10,494.60 636.05,495.88 636.01,491.63 633.54,488.17 637.58,486.82" fill="#b6721c" stroke="#7a6a24" stroke-width="0.5"/>
<text x="646.60" y="494.70" font-size="9.55" fill="#111111">9:05pm</text>
<circle cx="50.78" cy="503.9" r="4.9" fill="#ffffc8" stroke="#777" stroke-width="0.8"/>
<text x="57.38" y="507.30" font-size="9.55" fill="#111111">4:08am</text>
<circle cx="129.72" cy="503.9" r="4.9" fill="#ffffc8" stroke="#777" stroke-width="0.8"/>
<text x="136.32" y="507.30" font-size="9.55" fill="#111111">4:54am</text>
<circle cx="208.93" cy="503.9" r="4.9" fill="#ffffc8" stroke="#777" stroke-width="0.8"/>
<text x="215.53" y="507.30" font-size="9.55" fill="#111111">5:45am</text>
<circle cx="288.35" cy="503.9" r="4.9" fill="#ffffc8" stroke="#777" stroke-width="0.8"/>
<text x="294.95" y="507.30" font-size="9.55" fill="#111111">6:40am</text>
<circle cx="367.98" cy="503.9" r="4.9" fill="#ffffc8" stroke="#777" stroke-width="0.8"/>
<text x="374.58" y="507.30" font-size="9.55" fill="#111111">7:39am</text>
<circle cx="447.72" cy="503.9" r="4.9" fill="#ffffc8" stroke="#777" stroke-width="0.8"/>
<text x="454.32" y="507.30" font-size="9.55" fill="#111111">8:40am</text>
<circle cx="527.52" cy="503.9" r="4.9" fill="#ffffc8" stroke="#777" stroke-width="0.8"/>
<text x="534.12" y="507.30" font-size="9.55" fill="#111111">9:42am</text>
<circle cx="607.37" cy="503.9" r="4.9" fill="#ffffc8" stroke="#777" stroke-width="0.8"/>
<text x="613.97" y="507.30" font-size="9.55" fill="#111111">10:45am</text>
<circle cx="687.27" cy="503.9" r="4.9" fill="#ffffc8" stroke="#777" stroke-width="0.8"/>
<text x="693.87" y="507.30" font-size="9.55" fill="#111111">11:49am</text>
<circle cx="96.57" cy="517.5" r="4.9" fill="#c8c8b6" stroke="#777" stroke-width="0.8"/>
<text x="103.17" y="521.30" font-size="9.55" fill="#111111">6:32pm</text>
<circle cx="175.73" cy="517.5" r="4.9" fill="#c8c8b6" stroke="#777" stroke-width="0.8"/>
<text x="182.33" y="521.30" font-size="9.55" fill="#111111">7:22pm</text>
<circle cx="254.73" cy="517.5" r="4.9" fill="#c8c8b6" stroke="#777" stroke-width="0.8"/>
<text x="261.33" y="521.30" font-size="9.55" fill="#111111">8:09pm</text>
<circle cx="333.57" cy="517.5" r="4.9" fill="#c8c8b6" stroke="#777" stroke-width="0.8"/>
<text x="340.17" y="521.30" font-size="9.55" fill="#111111">8:53pm</text>
<circle cx="412.24" cy="517.5" r="4.9" fill="#c8c8b6" stroke="#777" stroke-width="0.8"/>
<text x="418.84" y="521.30" font-size="9.55" fill="#111111">9:34pm</text>
<circle cx="490.76" cy="517.5" r="4.9" fill="#c8c8b6" stroke="#777" stroke-width="0.8"/>
<text x="497.36" y="521.30" font-size="9.55" fill="#111111">10:12pm</text>
<circle cx="569.23" cy="517.5" r="4.9" fill="#c8c8b6" stroke="#777" stroke-width="0.8"/>
<text x="575.83" y="521.30" font-size="9.55" fill="#111111">10:49pm</text>
<circle cx="647.59" cy="517.5" r="4.9" fill="#c8c8b6" stroke="#777" stroke-width="0.8"/>
<text x="654.19" y="521.30" font-size="9.55" fill="#111111">11:24pm</text>
<text x="285.3" y="533.8" font-size="9.55" fill="#111111">New Moon</text>
<text x="333.3" y="534.2" font-size="9.55" fill="#111111">|</text>
<text x="337.7" y="535" font-size="9.55" fill="#111111">9:06pm</text>
</svg></body></html>
